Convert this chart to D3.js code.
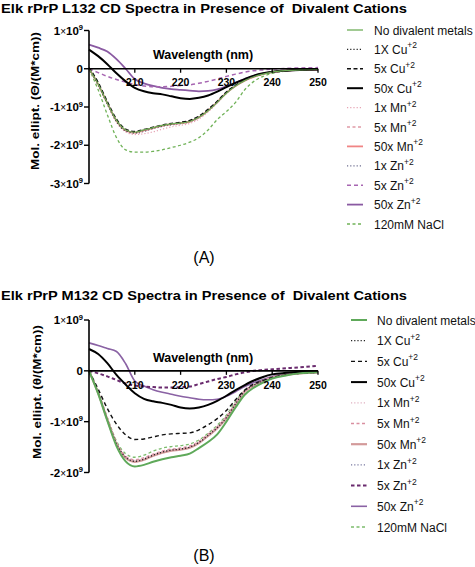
<!DOCTYPE html>
<html><head><meta charset="utf-8">
<script src="https://cdn.jsdelivr.net/npm/d3@7"></script>
<style>
html,body{margin:0;padding:0;background:#fff;}
svg text{font-family:"Liberation Sans",Arial,Helvetica,sans-serif;white-space:pre;}
</style></head>
<body><svg id="c" width="475" height="567"></svg>
<script>
// ---------- DATA ----------
const wavelengths = [200,202,204,206,208,210,212,214,216,218,220,222,224,226,228,230,232,234,236,238,240,243,246,250];
const legendLabels = ["No divalent metals","1X Cu","5x Cu","50x Cu","1x Mn","5x Mn","50x Mn","1x Zn","5x Zn","50x Zn","120mM NaCl"];
const legendSup = ["","+2","+2","+2","+2","+2","+2","+2","+2","+2",""];
const topTitle = "Elk rPrP L132 CD Spectra in Presence of  Divalent Cations";
const bottomTitle = "Elk rPrP M132 CD Spectra in Presence of  Divalent Cations";
const topYTicks = [1,0,-1,-2,-3];      // x 10^9
const bottomYTicks = [1,0,-1,-2];     // x 10^9
const xTicks = [210,220,230,240,250];

// Panel A (L132), values in 10^9 units
const A_noMetal = [0.00,-0.40,-0.90,-1.35,-1.60,-1.66,-1.60,-1.54,-1.48,-1.44,-1.42,-1.38,-1.27,-1.10,-0.88,-0.64,-0.45,-0.31,-0.21,-0.14,-0.09,-0.05,-0.03,-0.02];
const A_1xCu    = [0.00,-0.42,-0.92,-1.38,-1.62,-1.67,-1.61,-1.55,-1.49,-1.45,-1.42,-1.37,-1.26,-1.08,-0.86,-0.62,-0.44,-0.30,-0.20,-0.13,-0.08,-0.05,-0.03,-0.02];
const A_5xCu    = [0.03,-0.36,-0.86,-1.32,-1.58,-1.64,-1.59,-1.53,-1.47,-1.43,-1.40,-1.35,-1.24,-1.06,-0.85,-0.61,-0.43,-0.30,-0.20,-0.13,-0.08,-0.05,-0.03,-0.02];
const A_50xCu   = [0.50,0.33,0.12,-0.12,-0.33,-0.50,-0.59,-0.64,-0.67,-0.72,-0.77,-0.79,-0.76,-0.70,-0.60,-0.48,-0.37,-0.27,-0.18,-0.12,-0.08,-0.05,-0.03,-0.02];
const A_1xMn    = [0.00,-0.42,-0.93,-1.40,-1.65,-1.72,-1.70,-1.65,-1.58,-1.52,-1.48,-1.43,-1.32,-1.13,-0.90,-0.65,-0.46,-0.31,-0.21,-0.14,-0.09,-0.05,-0.03,-0.02];
const A_5xMn    = [0.00,-0.41,-0.91,-1.37,-1.62,-1.68,-1.63,-1.56,-1.50,-1.46,-1.43,-1.39,-1.28,-1.10,-0.88,-0.64,-0.45,-0.31,-0.21,-0.14,-0.09,-0.05,-0.03,-0.02];
const A_50xMn   = [0.00,-0.40,-0.90,-1.36,-1.61,-1.67,-1.61,-1.55,-1.49,-1.45,-1.42,-1.38,-1.27,-1.09,-0.87,-0.63,-0.45,-0.31,-0.21,-0.14,-0.09,-0.05,-0.03,-0.02];
const A_1xZn    = [0.00,-0.41,-0.91,-1.37,-1.63,-1.69,-1.64,-1.57,-1.51,-1.47,-1.44,-1.39,-1.28,-1.10,-0.88,-0.63,-0.45,-0.31,-0.21,-0.14,-0.09,-0.05,-0.03,-0.02];
const A_5xZn    = [0.00,-0.10,-0.20,-0.28,-0.35,-0.41,-0.45,-0.47,-0.47,-0.46,-0.44,-0.42,-0.38,-0.33,-0.27,-0.20,-0.14,-0.09,-0.05,-0.03,-0.01,0.01,0.02,0.03];
const A_50xZn   = [0.63,0.55,0.45,0.25,0.00,-0.27,-0.38,-0.45,-0.50,-0.53,-0.55,-0.57,-0.59,-0.58,-0.54,-0.46,-0.36,-0.27,-0.19,-0.13,-0.09,-0.05,-0.03,-0.02];
const A_NaCl    = [0.00,-0.55,-1.20,-1.80,-2.12,-2.18,-2.18,-2.16,-2.12,-2.06,-2.00,-1.92,-1.80,-1.60,-1.33,-1.12,-0.88,-0.55,-0.33,-0.20,-0.12,-0.06,-0.03,-0.02];

// Panel B (M132)
const B_noMetal = [0.00,-0.45,-0.98,-1.48,-1.78,-1.88,-1.85,-1.79,-1.74,-1.70,-1.67,-1.63,-1.52,-1.40,-1.25,-1.00,-0.72,-0.47,-0.33,-0.23,-0.15,-0.09,-0.05,-0.03];
const B_1xCu    = [0.00,-0.43,-0.95,-1.43,-1.70,-1.78,-1.74,-1.66,-1.60,-1.56,-1.54,-1.50,-1.41,-1.27,-1.12,-0.92,-0.65,-0.40,-0.28,-0.20,-0.13,-0.08,-0.05,-0.03];
const B_5xCu    = [0.00,-0.36,-0.74,-1.05,-1.26,-1.35,-1.34,-1.30,-1.26,-1.24,-1.23,-1.22,-1.16,-1.06,-0.94,-0.78,-0.57,-0.38,-0.26,-0.19,-0.13,-0.08,-0.05,-0.03];
const B_50xCu   = [0.43,0.33,0.15,-0.08,-0.27,-0.44,-0.55,-0.60,-0.63,-0.67,-0.72,-0.74,-0.72,-0.67,-0.59,-0.49,-0.38,-0.28,-0.19,-0.12,-0.07,-0.04,-0.02,-0.01];
const B_1xMn    = [0.00,-0.43,-0.94,-1.42,-1.69,-1.76,-1.72,-1.65,-1.59,-1.55,-1.53,-1.49,-1.40,-1.26,-1.11,-0.91,-0.64,-0.40,-0.28,-0.20,-0.13,-0.08,-0.05,-0.03];
const B_5xMn    = [0.00,-0.42,-0.93,-1.41,-1.68,-1.75,-1.71,-1.64,-1.58,-1.54,-1.52,-1.48,-1.39,-1.25,-1.10,-0.90,-0.63,-0.39,-0.28,-0.20,-0.13,-0.08,-0.05,-0.03];
const B_50xMn   = [0.00,-0.44,-0.96,-1.44,-1.71,-1.79,-1.75,-1.67,-1.61,-1.57,-1.55,-1.51,-1.42,-1.28,-1.13,-0.93,-0.66,-0.41,-0.29,-0.20,-0.13,-0.08,-0.05,-0.03];
const B_1xZn    = [0.00,-0.43,-0.95,-1.43,-1.70,-1.77,-1.73,-1.66,-1.60,-1.56,-1.54,-1.50,-1.41,-1.27,-1.12,-0.92,-0.65,-0.40,-0.28,-0.20,-0.13,-0.08,-0.05,-0.03];
const B_5xZn    = [0.00,-0.05,-0.11,-0.18,-0.25,-0.29,-0.31,-0.32,-0.33,-0.33,-0.32,-0.31,-0.26,-0.21,-0.16,-0.12,-0.07,-0.03,0.00,0.02,0.03,0.05,0.07,0.10];
const B_50xZn   = [0.55,0.50,0.44,0.38,0.14,-0.20,-0.30,-0.37,-0.42,-0.46,-0.50,-0.53,-0.56,-0.57,-0.56,-0.50,-0.41,-0.31,-0.23,-0.17,-0.11,-0.06,-0.04,-0.03];
const B_NaCl    = [0.00,-0.42,-0.92,-1.38,-1.63,-1.70,-1.66,-1.58,-1.52,-1.49,-1.47,-1.44,-1.36,-1.23,-1.07,-0.87,-0.60,-0.39,-0.27,-0.19,-0.13,-0.08,-0.05,-0.03];

// ---------- STYLES ----------
const stylesA = [
  {c:"#6fae58", w:1.2, d:null},
  {c:"#222",    w:1.2, d:"1.2,2"},
  {c:"#111",    w:1.5, d:"4,2.5"},
  {c:"#000",    w:2,   d:null},
  {c:"#e6a4b4", w:1.2, d:"1.2,2"},
  {c:"#df9aa6", w:1.2, d:"3,2.5"},
  {c:"#f08585", w:1.8, d:null},
  {c:"#6d6d8f", w:1.2, d:"1.2,2"},
  {c:"#a766b2", w:1.5, d:"4,3"},
  {c:"#8a5aa2", w:1.8, d:null},
  {c:"#70b258", w:1.3, d:"3,2.5"}
];
const stylesB = [
  {c:"#5fa95a", w:2,   d:null},
  {c:"#222",    w:1.2, d:"1.2,2"},
  {c:"#111",    w:1.4, d:"4,3"},
  {c:"#000",    w:2,   d:null},
  {c:"#dfb0c0", w:1.2, d:"1.2,2"},
  {c:"#d98fa0", w:1.5, d:"3,2.5"},
  {c:"#d39a9a", w:2.2, d:null},
  {c:"#7878a0", w:1.2, d:"1.2,2"},
  {c:"#6a2b6e", w:2,   d:"3.5,2.5"},
  {c:"#8a62a4", w:1.6, d:null},
  {c:"#7cbc6c", w:1.3, d:"3,2.5"}
];

const svg = d3.select("#c");

function drawPanel(o){
  const g = svg.append("g");
  const x = d3.scaleLinear().domain([200,250]).range([o.x0,o.x1]);
  const y = d3.scaleLinear().domain([o.yTicks[o.yTicks.length-1]*1e9, o.yTicks[0]*1e9]).range([o.yb,o.yt]);

  // title
  g.append("text").attr("x",o.titleX).attr("y",o.titleY)
    .attr("font-size",12.5).attr("font-weight","bold")
    .attr("textLength",406).attr("lengthAdjust","spacingAndGlyphs").text(o.title);

  // series (reverse order so first legend item on top)
  const line = d3.line().x((d,i)=>x(wavelengths[i])).y(d=>y(d*1e9)).curve(d3.curveMonotoneX);
  for(let k=o.series.length-1;k>=0;k--){
    const s=o.styles[k];
    g.append("path").datum(o.series[k]).attr("d",line)
      .attr("fill","none").attr("stroke",s.c).attr("stroke-width",s.w)
      .attr("stroke-dasharray",s.d);
  }

  // y axis
  g.append("line").attr("x1",o.x0).attr("x2",o.x0).attr("y1",y.range()[1]).attr("y2",y.range()[0])
    .attr("stroke","#000").attr("stroke-width",1.6);
  o.yTicks.forEach(t=>{
    const yy=y(t*1e9);
    g.append("line").attr("x1",o.x0-5).attr("x2",o.x0).attr("y1",yy).attr("y2",yy)
      .attr("stroke","#000").attr("stroke-width",1.4);
    const tx=g.append("text").attr("x",o.x0-6).attr("y",yy+4).attr("text-anchor","end")
      .attr("font-size",11.5).attr("font-weight","bold");
    if(t===0){ tx.text("0"); }
    else{
      tx.append("tspan").text(String(t));
      tx.append("tspan").attr("font-weight","normal").attr("font-size",10).text("×");
      tx.append("tspan").text("10");
      tx.append("tspan").attr("font-size",7.5).attr("dy",-4.5).text("9");
    }
  });
  // y title
  g.append("text").attr("transform",`translate(${o.ytX},${o.ytY}) rotate(-90)`)
    .attr("text-anchor","middle").attr("font-size",11.5).attr("font-weight","bold")
    .attr("textLength",o.ytLen).attr("lengthAdjust","spacingAndGlyphs").text(o.yTitle);

  // x axis at zero
  const y0=y(0);
  g.append("line").attr("x1",o.x0).attr("x2",o.x1).attr("y1",y0).attr("y2",y0)
    .attr("stroke","#000").attr("stroke-width",1.6);
  xTicks.forEach(t=>{
    g.append("line").attr("x1",x(t)).attr("x2",x(t)).attr("y1",y0).attr("y2",y0+4)
      .attr("stroke","#000").attr("stroke-width",1.3);
    g.append("text").attr("x",x(t)).attr("y",y0+o.xLabOff).attr("text-anchor","middle")
      .attr("font-size",10.5).attr("font-weight","bold").text(t);
  });
  g.append("text").attr("x",203).attr("y",y0+o.wlOff).attr("text-anchor","middle")
    .attr("font-size",12.5).attr("font-weight","bold").text("Wavelength (nm)");

  // legend
  legendLabels.forEach((lab,i)=>{
    const ly=o.legY0+i*o.legStep;
    const s=o.styles[i];
    g.append("line").attr("x1",o.legX0).attr("x2",o.legX0+16).attr("y1",ly).attr("y2",ly)
      .attr("stroke",s.c).attr("stroke-width",Math.max(s.w,1.3)).attr("stroke-dasharray",s.d);
    const t=g.append("text").attr("x",o.legTX).attr("y",ly+4.5).attr("font-size",12).attr("fill","#111");
    t.append("tspan").text(lab);
    if(legendSup[i]) t.append("tspan").attr("font-size",8.5).attr("dy",-5.5).text(legendSup[i]);
  });

  // panel label
  g.append("text").attr("x",204).attr("y",o.panelY).attr("text-anchor","middle")
    .attr("font-size",16).text(o.panel);
}

drawPanel({
  title: topTitle, titleX:1, titleY:12.5,
  x0:89, x1:318, yt:30.5, yb:183.5, yTicks: topYTicks,
  series:[A_noMetal,A_1xCu,A_5xCu,A_50xCu,A_1xMn,A_5xMn,A_50xMn,A_1xZn,A_5xZn,A_50xZn,A_NaCl],
  styles: stylesA,
  yTitle:"Mol. ellipt. (Θ/(M*cm))", ytX:39, ytY:101, ytLen:138,
  xLabOff:17, wlOff:-9.5,
  legX0:347, legTX:374, legY0:30, legStep:19.4,
  panel:"(A)", panelY:263
});
drawPanel({
  title: bottomTitle, titleX:1, titleY:300,
  x0:89, x1:318, yt:320, yb:472.5, yTicks: bottomYTicks,
  series:[B_noMetal,B_1xCu,B_5xCu,B_50xCu,B_1xMn,B_5xMn,B_50xMn,B_1xZn,B_5xZn,B_50xZn,B_NaCl],
  styles: stylesB,
  yTitle:"Mol. ellipt. (θ/(M*cm))", ytX:41, ytY:392, ytLen:134,
  xLabOff:18, wlOff:-9,
  legX0:351, legTX:377, legY0:320, legStep:20.7,
  panel:"(B)", panelY:561
});
</script></body></html>
